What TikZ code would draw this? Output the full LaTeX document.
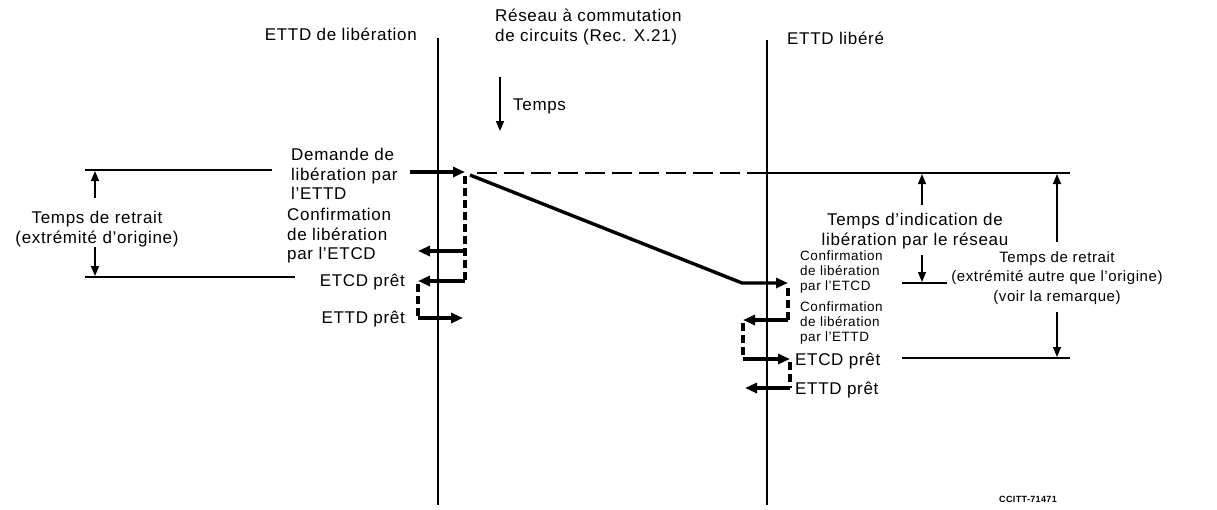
\documentclass[tikz,border=0pt]{standalone}
\usepackage{fontspec}
\setmainfont{Liberation Sans}[LetterSpace=4]
\usetikzlibrary{positioning,arrows.meta,calc}

\begin{document}
\begin{tikzpicture}[
    x=1pt, y=-1pt,
    font=\fontsize{17}{19.5}\selectfont,
    lbl/.style={inner sep=0pt, align=left},
    clbl/.style={inner sep=0pt, align=center},
    small/.style={lbl, font=\fontsize{13.5}{15}\selectfont},
    life/.style={line width=2.3pt},
    sig/.style={line width=3.4pt, -{Triangle[length=12pt, width=10pt]}},
    wait/.style={line width=3.2pt, dash pattern=on 8pt off 4pt},
    guide/.style={line width=1.5pt},
    dim/.style={line width=1.5pt, -{Triangle[length=10pt, width=8pt]}},
    lng/.style={line width=2pt, dash pattern=on 20pt off 7pt}
]
\useasboundingbox (0,0) rectangle (1217,509);

% lifelines
\coordinate (srctop) at (438,38);
\coordinate (srcbot) at (438,505);
\coordinate (dsttop) at (767,40);
\coordinate (dstbot) at (767,505);
\draw[life] (srctop) -- (srcbot);
\draw[life] (dsttop) -- (dstbot);

\node[lbl, anchor=base east] (src) at (417,40) {ETTD de libération};
\node[lbl, anchor=base west] (dst) at (787,44) {ETTD libéré};
\node[lbl, anchor=north west] (net) at (495,9) {Réseau à commutation\\de circuits (Rec. X.21)};

% time direction
\coordinate (t0) at (500,77);
\coordinate (t1) at (500,131);
\draw[dim] (t0) -- (t1);
\node[lbl, anchor=west] (time) at (513,106) {Temps};

% calling side
\coordinate (rq) at (410,172);
\coordinate (rqt) at (465,172);
\coordinate (cf) at (465,251);
\coordinate (cft) at (418,251);
\coordinate (rd) at (465,281);
\coordinate (rdt) at (418,281);
\coordinate (tr) at (418,318);
\coordinate (trt) at (463,318);

\draw[sig] (rq) -- (rqt);
\draw[wait] ($(rqt)+(0,4)$) -- (rd);
\draw[sig] (cf) -- (cft);
\draw[sig] (rd) -- (rdt);
\draw[wait] ($(rdt)+(0,3)$) -- (tr);
\draw[sig] (tr) -- (trt);

\node[lbl, anchor=north west] (req) at (291,148) {Demande de\\libération par\\l’ETTD};
\node[lbl, anchor=north west] (conf) at (287,208) {Confirmation\\de libération\\par l’ETCD};
\node[lbl, anchor=base east] (rdy1) at (405,286) {ETCD prêt};
\node[lbl, anchor=base east] (rdy2) at (405,323) {ETTD prêt};

% network
\coordinate (nw) at (470,175);
\coordinate (bend) at (742,283);
\coordinate (ind) at (788,283);
\draw[sig] (nw) -- (bend) -- (ind);

\coordinate (ref0) at (477,173);
\coordinate (ref1) at (767,173);
\coordinate (ref2) at (1070,173);
\draw[lng] (ref0) -- (ref1);
\draw[guide] (ref1) -- (ref2);

% called side
\coordinate (cc) at (788,320);
\coordinate (cct) at (743,320);
\coordinate (dr) at (743,359);
\coordinate (drt) at (790,359);
\coordinate (tr2) at (790,388);
\coordinate (tr2t) at (745,388);

\draw[wait] ($(ind)+(0,5)$) -- (cc);
\draw[sig] (cc) -- (cct);
\draw[wait] ($(cct)+(0,3)$) -- (dr);
\draw[sig] (dr) -- (drt);
\draw[wait] ($(drt)+(0,3)$) -- (tr2);
\draw[sig] (tr2) -- (tr2t);

\node[small, anchor=north west] (conf2) at (800,251) {Confirmation\\de libération\\par l’ETCD};
\node[small, anchor=north west] (conf3) at (800,302) {Confirmation\\de libération\\par l’ETTD};
\node[lbl, anchor=base west] (rdy3) at (795,365) {ETCD prêt};
\node[lbl, anchor=base west] (rdy4) at (795,394) {ETTD prêt};

% left dimension
\coordinate (la) at (85,170);
\coordinate (lb) at (272,170);
\coordinate (lc) at (85,277);
\coordinate (ld) at (295,277);
\draw[guide] (la) -- (lb);
\draw[guide] (lc) -- (ld);
\node[clbl] (ret1) at (97,229) {Temps de retrait\\(extrémité d’origine)};
\draw[dim] (95,198) -- (95,171);
\draw[dim] (95,247) -- (95,276);

% right dimensions
\coordinate (ia) at (902,283);
\coordinate (ib) at (947,283);
\coordinate (ra) at (902,358);
\coordinate (rb) at (1070,358);
\draw[guide] (ia) -- (ib);
\draw[guide] (ra) -- (rb);
\node[clbl] (indt) at (915,231) {Temps d’indication de\\libération par le réseau};
\draw[dim] (922,205) -- (922,174);
\draw[dim] (922,255) -- (922,282);
\node[clbl, font=\fontsize{15}{19.5}\selectfont] (ret2) at (1057,278) {Temps de retrait\\(extrémité autre que l’origine)\\(voir la remarque)};
\draw[dim] (1057,242) -- (1057,174);
\draw[dim] (1057,312) -- (1057,357);

\node[inner sep=0pt, font=\fontsize{9}{10}\selectfont\bfseries] (ref) at (1028,499) {CCITT-71471};
\end{tikzpicture}
\end{document}
